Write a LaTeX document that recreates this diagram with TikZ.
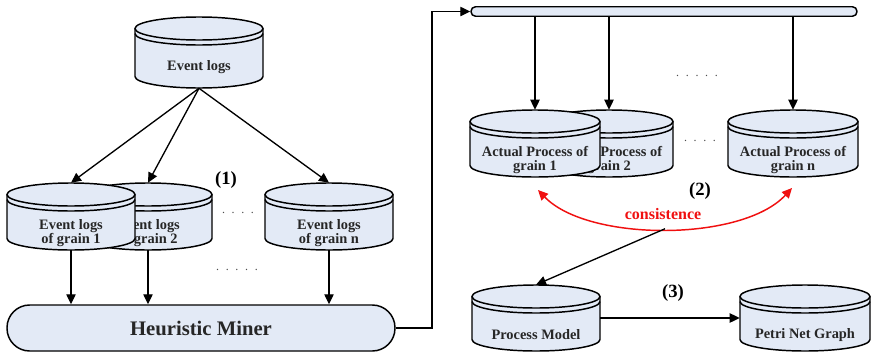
\documentclass[tikz,border=0pt]{standalone}
\usepackage{fontspec}
\setmainfont{Liberation Serif}
\usetikzlibrary{arrows.meta}
\definecolor{cylfill}{HTML}{E3EAF6}
\definecolor{conred}{HTML}{F01010}
\tikzset{
  outline/.style={draw=black, line width=1.1pt},
  arr/.style={line width=1pt, -{Triangle[length=7.5pt,width=7pt]}},
  cyltext/.style={font=\fontsize{10.8}{11}\selectfont\bfseries, align=center, inner sep=0, text=black!85},
  steplabel/.style={font=\fontsize{14}{15}\selectfont\bfseries, inner sep=0},
  dots/.style={font=\fontsize{9}{10}\selectfont, inner sep=0, text=black!70},
}
\newcommand\dbcyl[6]{%
  \pgfmathsetmacro\cylrx{#4/2}%
  \pgfmathsetmacro\cylec{#3+11.5}%
  \pgfmathsetmacro\cylbc{#3+#5-11.5}%
  \fill[cylfill] (#2-\cylrx,\cylec) -- (#2-\cylrx,\cylbc) arc[start angle=180,end angle=0,x radius=\cylrx,y radius=11.5] -- (#2+\cylrx,\cylec) arc[start angle=0,end angle=-180,x radius=\cylrx,y radius=11.5] -- cycle;
  \draw[outline] (#2-\cylrx,\cylec) -- (#2-\cylrx,\cylbc) arc[start angle=180,end angle=0,x radius=\cylrx,y radius=11.5] -- (#2+\cylrx,\cylec);
  \draw[outline] (#2,\cylec) ellipse[x radius=\cylrx,y radius=11.5];
  \draw[outline] (#2-\cylrx,\cylec+5) arc[start angle=180,end angle=0,x radius=\cylrx,y radius=11.5];
  \node[inner sep=0,minimum width=#4*0.75pt,minimum height=#5*0.75pt] (#1) at (#2,#3+#5/2) {};
  \node[cyltext] (#1-t) at (#2,#3+50) {#6};
}
\begin{document}
\begin{tikzpicture}[x=0.75pt,y=-0.75pt]
\fill[white] (0,0) rectangle (872,354);
\useasboundingbox (0,0) rectangle (872,354);

% left part
\dbcyl{el}{199}{17}{128}{71}{Event logs}
\dbcyl{g2}{148}{183}{128}{67}{Event logs\\of grain 2}
\dbcyl{g1}{71}{183}{128}{67}{Event logs\\of grain 1}
\dbcyl{gn}{329}{183}{128}{67}{Event logs\\of grain n}

\node[outline, fill=cylfill, rounded corners=17pt, minimum width=388*0.75pt, minimum height=46*0.75pt, inner sep=0,
      font=\fontsize{15.5}{16}\selectfont\bfseries, text=black!85] (hm) at (201,328) {Heuristic Miner};

\draw[arr] (el.south) -- (g1.north);
\draw[arr] (el.south) -- (g2.north);
\draw[arr] (el.south) -- (gn.north);
\draw[arr] (g1.south) -- (g1.south |- hm.north);
\draw[arr] (g2.south) -- (g2.south |- hm.north);
\draw[arr] (gn.south) -- (gn.south |- hm.north);

\node[steplabel] (l1) at (226,180) {(1)};
\node[dots] (d1) at (238,213) {.\hspace{5pt}.\hspace{5pt}.\hspace{5pt}.};
\node[dots] (d2) at (237,270) {.\hspace{5pt}.\hspace{5pt}.\hspace{5pt}.\hspace{5pt}.};

% bar
\node[outline, fill=cylfill, rounded corners=3.4pt, minimum width=386*0.75pt, minimum height=9.5*0.75pt, inner sep=0] (bar) at (664,11.5) {};
\coordinate (bend) at (432,328);
\draw[arr] (hm.east) -- (bend) |- (bar.west);

% right part
\dbcyl{a2}{609}{110}{128}{67}{Actual Process of\\grain 2}
\dbcyl{a1}{535}{110}{130}{67}{Actual Process of\\grain 1}
\dbcyl{an}{793}{110}{130}{67}{Actual Process of\\grain n}

\draw[arr] (bar.south -| a1.north) -- (a1.north);
\draw[arr] (bar.south -| a2.north) -- (a2.north);
\draw[arr] (bar.south -| an.north) -- (an.north);

\node[dots] (d3) at (697,76) {.\hspace{5pt}.\hspace{5pt}.\hspace{5pt}.\hspace{5pt}.};
\node[dots] (d4) at (700,141) {.\hspace{5pt}.\hspace{5pt}.\hspace{5pt}.};

\node[steplabel] (l2) at (700,191) {(2)};

\coordinate (cL) at (538,190);
\coordinate (cR) at (792,188);
\draw[conred, line width=1.1pt, {Triangle[length=7.5pt,width=7pt]}-{Triangle[length=7.5pt,width=7pt]}]
  (cL) .. controls (588,242) and (742,242) .. (cR) coordinate[pos=0.5] (cM);
\node[font=\fontsize{12}{13}\selectfont\bfseries, text=conred, inner sep=0] (cons) at (663,214) {consistence};

\dbcyl{pm}{536}{285}{128}{66}{Process Model}
\dbcyl{pn}{805}{285}{130}{66}{Petri Net Graph}

\draw[arr] (cM) -- (pm.north);
\draw[arr] (pm.east) -- (pn.west);
\node[steplabel] (l3) at (673,293) {(3)};
\end{tikzpicture}
\end{document}
